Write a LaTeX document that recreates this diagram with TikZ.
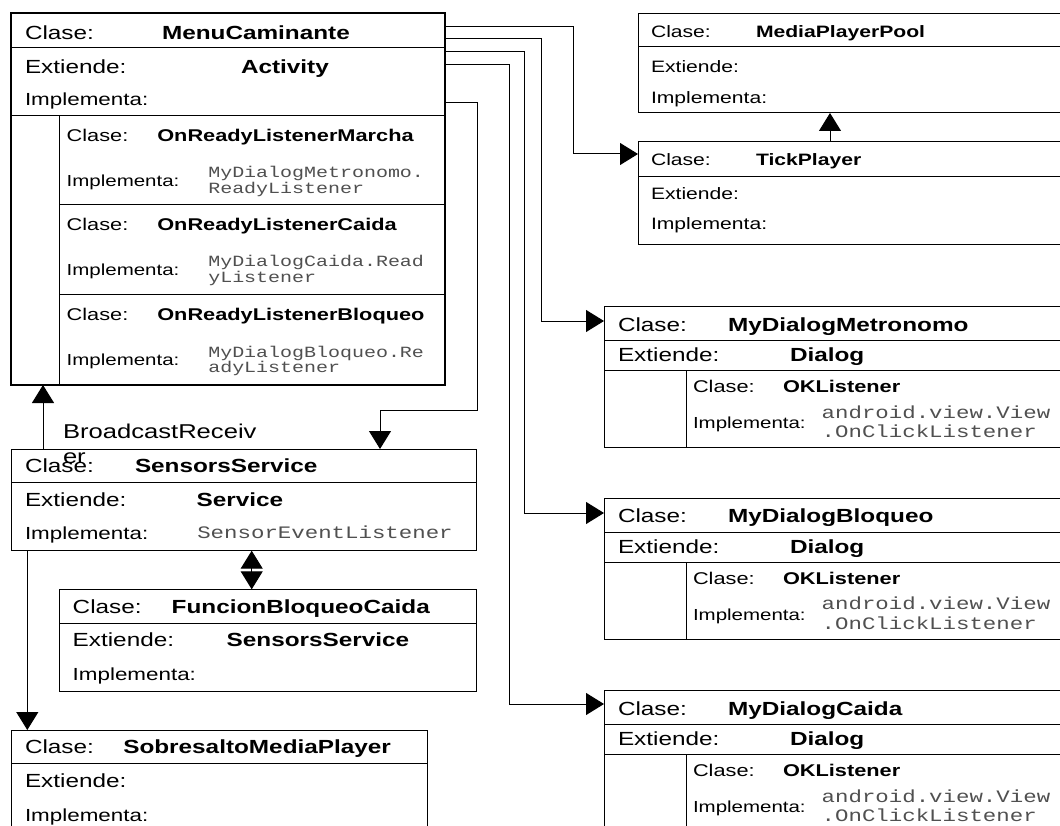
\documentclass[tikz,border=0pt]{standalone}
\usepackage{fontspec}
\setmainfont{Liberation Sans}[FakeStretch=1.28]
\newfontfamily\monof{Liberation Mono}[FakeStretch=1.28]
\usetikzlibrary{arrows.meta,calc}
\definecolor{codegray}{HTML}{505050}

\begin{document}
\begin{tikzpicture}[x=1pt,y=-1pt,
  box/.style={draw, line width=1pt, anchor=north west, inner sep=0pt, outer sep=0pt},
  rule/.style={line width=1pt},
  txt/.style={anchor=base west, inner sep=0pt, outer sep=0pt},
  big/.style={txt, font=\fontsize{19}{22}\selectfont},
  bigb/.style={txt, font=\fontsize{19}{22}\selectfont\bfseries},
  imp/.style={txt, font=\fontsize{17.5}{20}\selectfont},
  sub/.style={txt, font=\fontsize{17}{20}\selectfont},
  subb/.style={txt, font=\fontsize{17}{20}\selectfont\bfseries},
  subimp/.style={txt, font=\fontsize{16}{19}\selectfont},
  small/.style={txt, font=\fontsize{16.5}{19}\selectfont},
  smallb/.style={txt, font=\fontsize{16.5}{19}\selectfont\bfseries},
  label/.style={txt, font=\fontsize{20}{25}\selectfont},
  code/.style={txt, font=\monof\fontsize{17.5}{19}\selectfont, text=codegray},
  codesm/.style={txt, font=\monof\fontsize{15.6}{17}\selectfont, text=codegray},
  arr/.style={line width=1pt, -{Triangle[length=18pt,width=22pt]}},
  darr/.style={line width=1pt, {Triangle[length=18pt,width=22pt]}-{Triangle[length=18pt,width=22pt]}},
]
\useasboundingbox (0,0) rectangle (1060,826);
\fill[white] (0,0) rectangle (1060,826);

% ---------- MenuCaminante with its nested listeners ----------
\node[box, line width=2.6pt, minimum width=434pt, minimum height=372pt] (M) at (11,13) {};
\draw[rule] (11,48) -- (445,48);
\draw[rule] (11,116) -- (445,116);
\draw[rule] (59,116) -- (59,385);
\draw[rule] (59,205) -- (445,205);
\draw[rule] (59,295) -- (445,295);
\node[big]  (Mc)  at (25,39.3)  {Clase:};
\node[bigb] (Mcn) at (162,39.3) {MenuCaminante};
\node[big]  (Me)  at (25,73.3)  {Extiende:};
\node[bigb] (Men) at (241,73.3) {Activity};
\node[imp]  (Mi)  at (25,106)   {Implementa:};
\foreach \s/\t/\n/\a/\b in {
  116/OnReadyListenerMarcha/ma/MyDialogMetronomo./ReadyListener,
  205/OnReadyListenerCaida/ca/MyDialogCaida.Read/yListener,
  295/OnReadyListenerBloqueo/bl/MyDialogBloqueo.Re/adyListener} {
  \node[sub]    (\n-c)  at (66.7,\s+25.7)  {Clase:};
  \node[subb]   (\n-cn) at (157.3,\s+25.7) {\t};
  \node[subimp] (\n-i)  at (66.7,\s+70.7)  {Implementa:};
  \node[codesm] (\n-i1) at (208.3,\s+62)   {\a};
  \node[codesm] (\n-i2) at (208.3,\s+77.5) {\b};
}

% ---------- MediaPlayerPool and TickPlayer ----------
\node[box, minimum width=432pt, minimum height=99pt] (MP) at (638,14) {};
\draw[rule] (638,46.7) -- (1070,46.7);
\node[small]  (MPc)  at (651,37.3)  {Clase:};
\node[smallb] (MPcn) at (756,37.3)  {MediaPlayerPool};
\node[small]  (MPe)  at (651,72.7)  {Extiende:};
\node[small]  (MPi)  at (651,103.3) {Implementa:};

\node[box, minimum width=432pt, minimum height=103.3pt] (TP) at (638,141.7) {};
\draw[rule] (638,176.7) -- (1070,176.7);
\node[small]  (TPc)  at (651,166) {Clase:};
\node[smallb] (TPcn) at (756,166) {TickPlayer};
\node[small]  (TPe)  at (651,200) {Extiende:};
\node[small]  (TPi)  at (651,230) {Implementa:};

% ---------- Dialog classes ----------
\foreach \T/\t/\n in {306.7/MyDialogMetronomo/DM, 498.3/MyDialogBloqueo/DB, 690.7/MyDialogCaida/DC} {
  \node[box, minimum width=466pt, minimum height=141pt] (\n) at (604,\T) {};
  \draw[rule] (604,\T+34) -- (1070,\T+34);
  \draw[rule] (604,\T+64) -- (1070,\T+64);
  \draw[rule] (686,\T+64) -- (686,\T+141);
  \node[big]    (\n-c)  at (618,\T+24.5)   {Clase:};
  \node[bigb]   (\n-cn) at (728,\T+24.5)   {\t};
  \node[big]    (\n-e)  at (618,\T+55)     {Extiende:};
  \node[bigb]   (\n-en) at (790,\T+55)     {Dialog};
  \node[sub]    (\n-k)  at (693,\T+86)     {Clase:};
  \node[subb]   (\n-kn) at (783,\T+86)     {OKListener};
  \node[subimp] (\n-i)  at (693,\T+122)    {Implementa:};
  \node[code]   (\n-i1) at (821.7,\T+111.5) {android.view.View};
  \node[code]   (\n-i2) at (821.7,\T+131)   {.OnClickListener};
}

% ---------- SensorsService ----------
\node[box, minimum width=465pt, minimum height=101.7pt] (SS) at (11.7,449) {};
\draw[rule] (11.7,482.3) -- (476.7,482.3);
\node[big]  (SSc)  at (25,472.7)    {Clase:};
\node[bigb] (SScn) at (135,472.7)   {SensorsService};
\node[big]  (SSe)  at (25,506.7)    {Extiende:};
\node[bigb] (SSen) at (196.7,506.7) {Service};
\node[imp]  (SSi)  at (25,539.3)    {Implementa:};
\node[code] (SSin) at (197.3,538.3) {SensorEventListener};

% ---------- FuncionBloqueoCaida ----------
\node[box, minimum width=417.4pt, minimum height=101.7pt] (FB) at (59.3,589.3) {};
\draw[rule] (59.3,623.3) -- (476.7,623.3);
\node[big]  (FBc)  at (72.7,613.3)  {Clase:};
\node[bigb] (FBcn) at (171.7,613.3) {FuncionBloqueoCaida};
\node[big]  (FBe)  at (72.7,646.7)  {Extiende:};
\node[bigb] (FBen) at (226.7,646.7) {SensorsService};
\node[imp]  (FBi)  at (72.7,680)    {Implementa:};

% ---------- SobresaltoMediaPlayer ----------
\node[box, minimum width=416pt, minimum height=120pt] (SM) at (11.7,730) {};
\draw[rule] (11.7,763.3) -- (427.7,763.3);
\node[big]  (SMc)  at (25,753.3)    {Clase:};
\node[bigb] (SMcn) at (123.3,753.3) {SobresaltoMediaPlayer};
\node[big]  (SMe)  at (25,787.7)    {Extiende:};
\node[imp]  (SMi)  at (25,821)      {Implementa:};

% ---------- BroadcastReceiver label (wrapped over two lines) ----------
\node[label] (br1) at (63,438.3) {BroadcastReceiv};
\node[label] (br2) at (63,463.5) {er};

% ---------- connectors ----------
\draw[arr] ($(M.north east)+(0,14)$) -- ++(128,0) |- ($(TP.north west)+(0,12.3)$);
\draw[arr] ($(M.north east)+(0,26)$) -- ++(96,0)  |- ($(DM.north west)+(0,14.3)$);
\draw[arr] ($(M.north east)+(0,39)$) -- ++(79,0)  |- ($(DB.north west)+(0,14.7)$);
\draw[arr] ($(M.north east)+(0,52)$) -- ++(64,0)  |- ($(DC.north west)+(0,13.3)$);
\draw[arr] ($(M.north east)+(0,90)$) -- ++(32,0) -- ++(0,307) -| ($(SS.north west)+(368.3,0)$);
\draw[arr] ($(SS.north west)+(31.3,0)$) -- ($(M.south west)+(32,0)$);
\draw[arr] ($(SS.south west)+(15.6,0)$) -- ($(SM.north west)+(15.6,0)$);
\draw[darr] ($(SS.south west)+(240,0)$) -- ($(FB.north west)+(192.4,0)$);
\draw[arr] ($(TP.north west)+(192,0)$) -- ($(MP.south west)+(192,0)$);
\end{tikzpicture}
\end{document}
